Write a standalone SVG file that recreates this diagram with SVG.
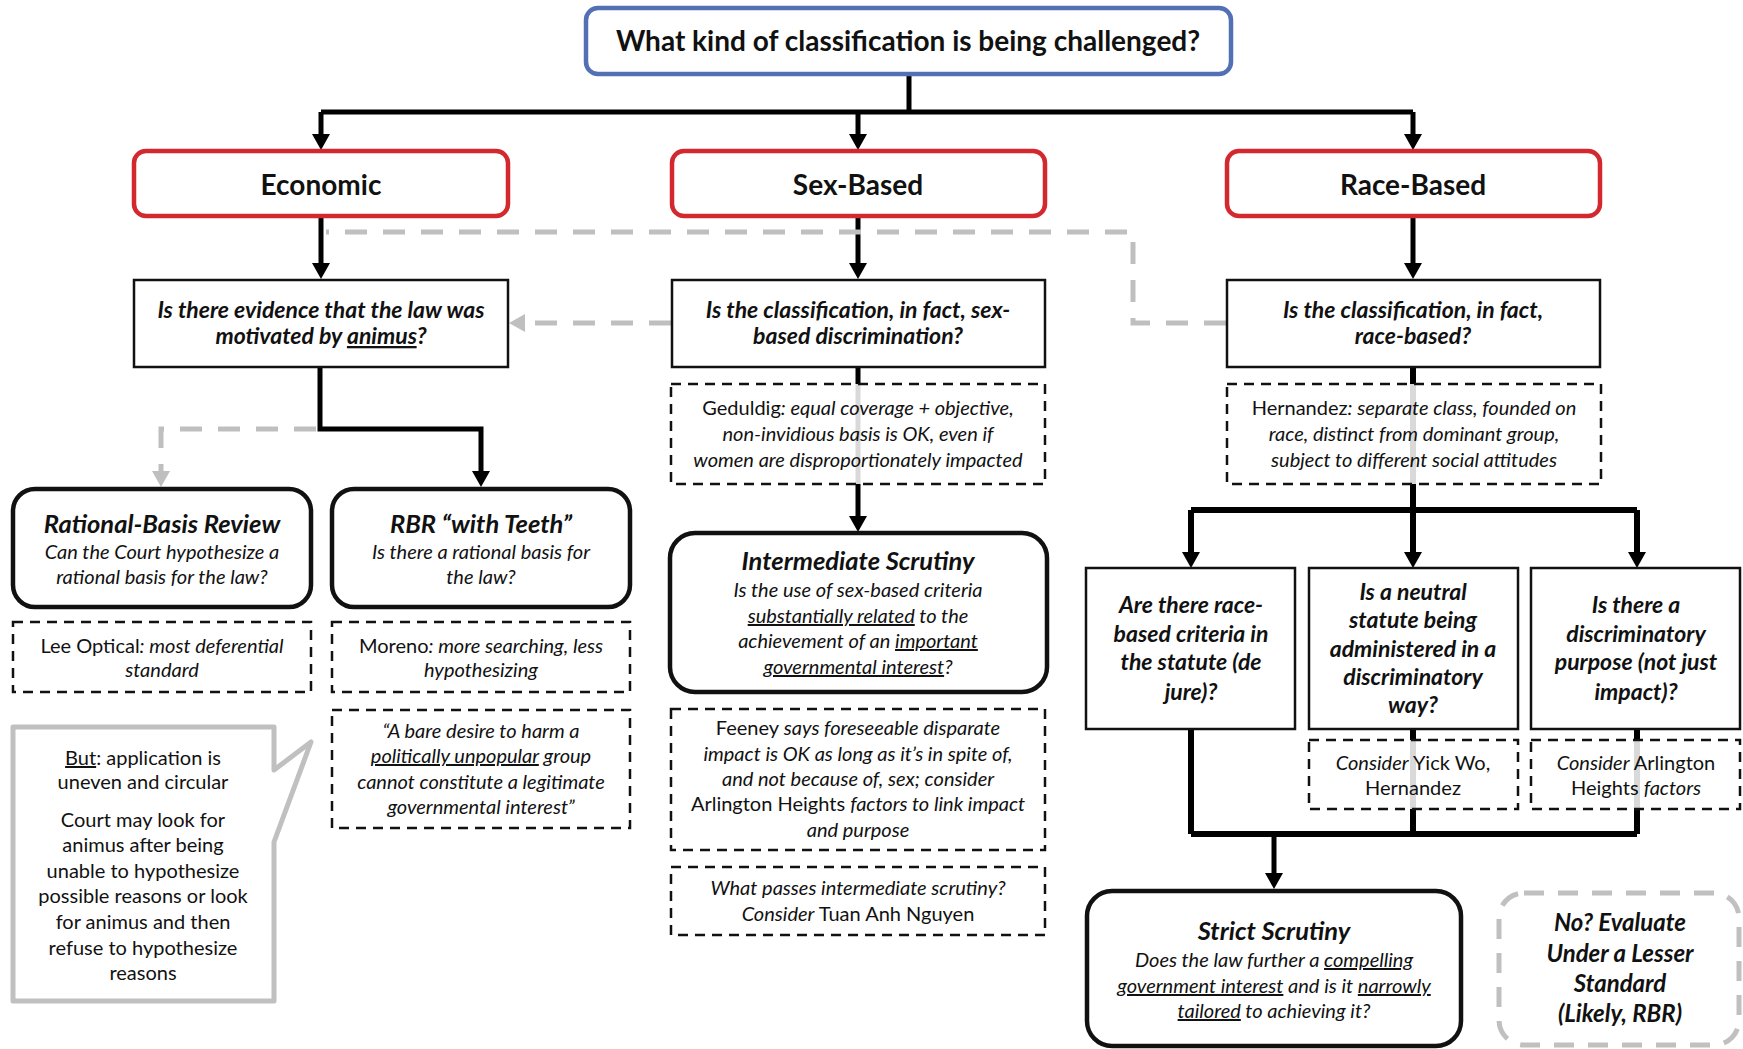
<svg xmlns="http://www.w3.org/2000/svg" width="1743" height="1049" viewBox="0 0 1743 1049">
<defs>
<style>
text{font-family:Lato,"Open Sans","Liberation Sans",sans-serif;text-anchor:middle;fill:#111}
.tt{font-size:28px;font-weight:700}
.cat{font-size:28px;font-weight:700}
.q{font-size:23px;font-weight:700;font-style:italic}
.h{font-size:25.5px;font-weight:700;font-style:italic}
.h2{font-size:24px;font-weight:700;font-style:italic}
.s{font-size:20px;font-weight:400;font-style:italic}
.n{font-size:20px;font-weight:400}
.i{font-style:italic}
.r{font-style:normal}
.u{text-decoration:underline}
.blue{fill:#fff;stroke:#5470b5;stroke-width:4.5}
.red{fill:#fff;stroke:#d3292e;stroke-width:4.5}
.qb{fill:#fff;stroke:#111;stroke-width:2.5}
.rb{fill:#fff;stroke:#111;stroke-width:4.5}
.note{fill:#fff;fill-opacity:0.85;stroke:#111;stroke-width:2.5;stroke-dasharray:10 7}
.call{fill:#fff;stroke:#c0c0c0;stroke-width:5;stroke-linejoin:round}
.gbox{fill:#fff;stroke:#c0c0c0;stroke-width:5;stroke-dasharray:20 14}
.c{fill:none;stroke:#000;stroke-width:5}
.c6{fill:none;stroke:#000;stroke-width:6}
.g{fill:none;stroke:#bfbfbf;stroke-width:5;stroke-dasharray:22 16}
</style>
<marker id="ah" viewBox="0 0 16 18" refX="8" refY="9" markerWidth="16" markerHeight="18" markerUnits="userSpaceOnUse" orient="auto"><path d="M0,0 L16,9 L0,18 z" fill="#000"/></marker>
<marker id="ahg" viewBox="0 0 16 18" refX="8" refY="9" markerWidth="16" markerHeight="18" markerUnits="userSpaceOnUse" orient="auto"><path d="M0,0 L16,9 L0,18 z" fill="#bfbfbf"/></marker>
</defs>

<g id="connectors">
<path class="c" d="M909,74 V112"/>
<path class="c" d="M321,112 H1413"/>
<path class="c" d="M321,112 V142" marker-end="url(#ah)"/>
<path class="c" d="M858,112 V142" marker-end="url(#ah)"/>
<path class="c" d="M1413,112 V142" marker-end="url(#ah)"/>
<path class="c" d="M321,217 V271" marker-end="url(#ah)"/>
<path class="c" d="M858,217 V271" marker-end="url(#ah)"/>
<path class="c" d="M1413,217 V271" marker-end="url(#ah)"/>
<path class="g" d="M1226,323 H1133 V232 H326"/>
<path class="g" d="M671,323 H517" marker-end="url(#ahg)"/>
<path class="g" d="M316,429 H161 V479" marker-end="url(#ahg)"/>
<path class="c" d="M320,367 V429 H481 V479" marker-end="url(#ah)"/>
<path class="c" d="M858,367 V524" marker-end="url(#ah)"/>
<path class="c6" d="M1413,367 V510"/>
<path class="c6" d="M1191,510 H1637"/>
<path class="c6" d="M1191,510 V560" marker-end="url(#ah)"/>
<path class="c6" d="M1413,510 V560" marker-end="url(#ah)"/>
<path class="c6" d="M1637,510 V560" marker-end="url(#ah)"/>
<path class="c6" d="M1191,729 V834 M1413,729 V834 M1637,729 V834"/>
<path class="c6" d="M1191,834 H1637"/>
<path class="c" d="M1274,834 V881" marker-end="url(#ah)"/>
</g>

<g id="n-top"><rect class="blue" x="586" y="8" width="645" height="66" rx="12"/>
<text class="tt" x="908" y="51">What kind of classification is being challenged?</text></g>

<g id="n-economic"><rect class="red" x="134" y="151" width="374" height="65" rx="12"/><text class="cat" x="321" y="195">Economic</text></g>
<g id="n-sex"><rect class="red" x="672" y="151" width="373" height="65" rx="12"/><text class="cat" x="858" y="195">Sex-Based</text></g>
<g id="n-race"><rect class="red" x="1227" y="151" width="373" height="65" rx="12"/><text class="cat" x="1413" y="195">Race-Based</text></g>

<g id="n-animus"><rect class="qb" x="134" y="280" width="374" height="87"/>
<text class="q" x="321" y="318">Is there evidence that the law was</text>
<text class="q" x="321" y="344">motivated by <tspan class="u">animus</tspan>?</text></g>

<g id="n-sexq"><rect class="qb" x="672" y="280" width="373" height="87"/>
<text class="q" x="858" y="318">Is the classification, in fact, sex-</text>
<text class="q" x="858" y="344">based discrimination?</text></g>

<g id="n-raceq"><rect class="qb" x="1227" y="280" width="373" height="87"/>
<text class="q" x="1413" y="318">Is the classification, in fact,</text>
<text class="q" x="1413" y="344">race-based?</text></g>

<g id="n-rbr"><rect class="rb" x="13" y="489" width="298" height="118" rx="22"/>
<text class="h" x="162" y="533">Rational-Basis Review</text>
<text class="s" x="162" y="559">Can the Court hypothesize a</text>
<text class="s" x="162" y="584">rational basis for the law?</text></g>

<g id="n-teeth"><rect class="rb" x="332" y="489" width="298" height="118" rx="22"/>
<text class="h" x="481" y="533">RBR “with Teeth”</text>
<text class="s" x="481" y="559">Is there a rational basis for</text>
<text class="s" x="481" y="584">the law?</text></g>

<g id="n-lee"><rect class="note" x="13" y="622" width="298" height="70"/>
<text class="n" x="162" y="653">Lee Optical<tspan class="i">: most deferential</tspan></text>
<text class="s" x="162" y="677">standard</text></g>

<g id="n-moreno"><rect class="note" x="332" y="622" width="298" height="70"/>
<text class="n" x="481" y="653">Moreno<tspan class="i">: more searching, less</tspan></text>
<text class="s" x="481" y="677">hypothesizing</text></g>

<g id="n-quote"><rect class="note" x="332" y="710" width="298" height="118"/>
<text class="s" x="481" y="738">“A bare desire to harm a</text>
<text class="s" x="481" y="763"><tspan class="u">politically unpopular</tspan> group</text>
<text class="s" x="481" y="789">cannot constitute a legitimate</text>
<text class="s" x="481" y="814">governmental interest”</text></g>

<g id="n-callout"><path class="call" d="M13,727 H274 V770 L311,742 L274,842 V1001 H13 Z"/>
<text class="n" x="143" y="765"><tspan class="u">But</tspan>: application is</text>
<text class="n" x="143" y="789">uneven and circular</text>
<text class="n" x="143" y="827">Court may look for</text>
<text class="n" x="143" y="852">animus after being</text>
<text class="n" x="143" y="878">unable to hypothesize</text>
<text class="n" x="143" y="903">possible reasons or look</text>
<text class="n" x="143" y="929">for animus and then</text>
<text class="n" x="143" y="955">refuse to hypothesize</text>
<text class="n" x="143" y="980">reasons</text></g>

<g id="n-geduldig"><rect class="note" x="671" y="384" width="374" height="100"/>
<text class="n" x="858" y="415">Geduldig<tspan class="i">: equal coverage + objective,</tspan></text>
<text class="s" x="858" y="441">non-invidious basis is OK, even if</text>
<text class="s" x="858" y="467">women are disproportionately impacted</text></g>

<g id="n-inter"><rect class="rb" x="670" y="533" width="377" height="159" rx="25"/>
<text class="h" x="858" y="570">Intermediate Scrutiny</text>
<text class="s" x="858" y="597">Is the use of sex-based criteria</text>
<text class="s" x="858" y="623"><tspan class="u">substantially related</tspan> to the</text>
<text class="s" x="858" y="648">achievement of an <tspan class="u">important</tspan></text>
<text class="s" x="858" y="674"><tspan class="u">governmental interest</tspan>?</text></g>

<g id="n-feeney"><rect class="note" x="671" y="709" width="374" height="141"/>
<text class="n" x="858" y="735">Feeney <tspan class="i">says foreseeable disparate</tspan></text>
<text class="s" x="858" y="761">impact is OK as long as it’s in spite of,</text>
<text class="s" x="858" y="786">and not because of, sex; consider</text>
<text class="n" x="858" y="811">Arlington Heights <tspan class="i">factors to link impact</tspan></text>
<text class="s" x="858" y="837">and purpose</text></g>

<g id="n-tuan"><rect class="note" x="671" y="867" width="374" height="68"/>
<text class="s" x="858" y="895">What passes intermediate scrutiny?</text>
<text class="s" x="858" y="921">Consider <tspan class="r">Tuan Anh Nguyen</tspan></text></g>

<g id="n-hernandez"><rect class="note" x="1227" y="384" width="374" height="100"/>
<text class="n" x="1414" y="415">Hernandez<tspan class="i">: separate class, founded on</tspan></text>
<text class="s" x="1414" y="441">race, distinct from dominant group,</text>
<text class="s" x="1414" y="467">subject to different social attitudes</text></g>

<g id="n-dejure"><rect class="qb" x="1086" y="568" width="209" height="161"/>
<text class="q" x="1191" y="613">Are there race-</text>
<text class="q" x="1191" y="642">based criteria in</text>
<text class="q" x="1191" y="670">the statute (de</text>
<text class="q" x="1191" y="700">jure)?</text></g>

<g id="n-neutral"><rect class="qb" x="1309" y="568" width="209" height="161"/>
<text class="q" x="1413" y="600">Is a neutral</text>
<text class="q" x="1413" y="628">statute being</text>
<text class="q" x="1413" y="657">administered in a</text>
<text class="q" x="1413" y="685">discriminatory</text>
<text class="q" x="1413" y="713">way?</text></g>

<g id="n-purpose"><rect class="qb" x="1531" y="568" width="209" height="161"/>
<text class="q" x="1636" y="613">Is there a</text>
<text class="q" x="1636" y="642">discriminatory</text>
<text class="q" x="1636" y="670">purpose (not just</text>
<text class="q" x="1636" y="700">impact)?</text></g>

<g id="n-yick"><rect class="note" x="1309" y="740" width="209" height="69"/>
<text class="s" x="1413" y="770">Consider <tspan class="r">Yick Wo,</tspan></text>
<text class="n" x="1413" y="795">Hernandez</text></g>

<g id="n-arlington"><rect class="note" x="1531" y="740" width="209" height="69"/>
<text class="s" x="1636" y="770">Consider <tspan class="r">Arlington</tspan></text>
<text class="n" x="1636" y="795">Heights <tspan class="i">factors</tspan></text></g>

<g id="n-strict"><rect class="rb" x="1087" y="891" width="374" height="155" rx="25"/>
<text class="h" x="1274" y="940">Strict Scrutiny</text>
<text class="s" x="1274" y="967">Does the law further a <tspan class="u">compelling</tspan></text>
<text class="s" x="1274" y="993"><tspan class="u">government interest</tspan> and is it <tspan class="u">narrowly</tspan></text>
<text class="s" x="1274" y="1018"><tspan class="u">tailored</tspan> to achieving it?</text></g>

<g id="n-lesser"><rect class="gbox" x="1499" y="893" width="240" height="152" rx="25"/>
<text class="h2" x="1620" y="931">No? Evaluate</text>
<text class="h2" x="1620" y="962">Under a Lesser</text>
<text class="h2" x="1620" y="992">Standard</text>
<text class="h2" x="1620" y="1022">(Likely, RBR)</text></g>
</svg>
